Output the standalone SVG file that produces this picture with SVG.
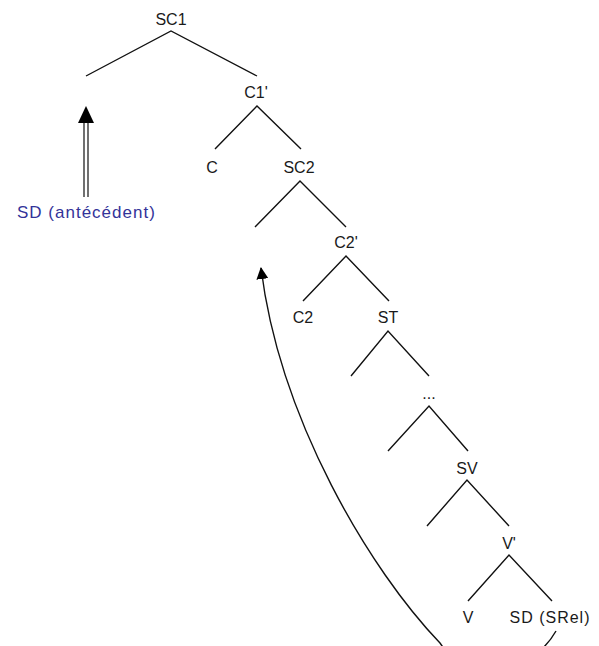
<svg xmlns="http://www.w3.org/2000/svg" width="599" height="646" viewBox="0 0 599 646">
<style>
text{font-family:"Liberation Sans",Arial,sans-serif;font-size:16px;fill:#1a1a1a;text-anchor:middle}
.wide{letter-spacing:1px}
.blue{fill:#333399;font-size:17px;letter-spacing:1px;text-anchor:start}
.br{stroke:#111;stroke-width:1.4;fill:none}
</style>
<defs>
<marker id="ah" viewBox="0 0 12 12" refX="11" refY="6" markerWidth="12" markerHeight="12" markerUnits="userSpaceOnUse" orient="auto">
<path d="M0,0 L12,6 L0,12 z" fill="#000"/>
</marker>
</defs>
<rect width="599" height="646" fill="#fff"/>
<g id="connectors">
<path class="br" d="M86,76 L171,31 L257,76"/>
<path class="br" d="M215,149 L257,106 L301,149"/>
<path class="br" d="M255,227 L300,181 L346,227"/>
<path class="br" d="M303,301 L346,256 L389,301"/>
<path class="br" d="M351,376 L388,331 L429,376"/>
<path class="br" d="M388,451 L429,406 L468,451"/>
<path class="br" d="M427,526 L467,480 L509,526"/>
<path class="br" d="M468,601 L509,555 L552,601"/>
<path class="br" d="M556,631 C535,668 475,695 440,643 C370,570 280,420 261,268" marker-end="url(#ah)"/>
<line x1="84" y1="122" x2="84" y2="197" stroke="#111" stroke-width="1.2"/>
<line x1="88" y1="122" x2="88" y2="197" stroke="#111" stroke-width="1.2"/>
<path d="M86,106 L78,123 L94,123 z" fill="#000"/>
</g>
<g id="SC1"><text x="171" y="25">SC1</text></g>
<g id="C1p"><text x="256" y="98">C1'</text></g>
<g id="C"><text x="212" y="173">C</text></g>
<g id="SC2"><text x="299" y="173">SC2</text></g>
<g id="C2p"><text x="346" y="248">C2'</text></g>
<g id="C2"><text x="303" y="323">C2</text></g>
<g id="ST"><text x="388" y="323">ST</text></g>
<g id="dots"><text x="429" y="399">...</text></g>
<g id="SV"><text x="467" y="474">SV</text></g>
<g id="Vp"><text x="509" y="549">V'</text></g>
<g id="V"><text x="468" y="623">V</text></g>
<g id="SDSRel"><text class="wide" x="550" y="623">SD (SRel)</text></g>
<g id="SDant"><text class="blue" x="17" y="218">SD (antécédent)</text></g>
</svg>
